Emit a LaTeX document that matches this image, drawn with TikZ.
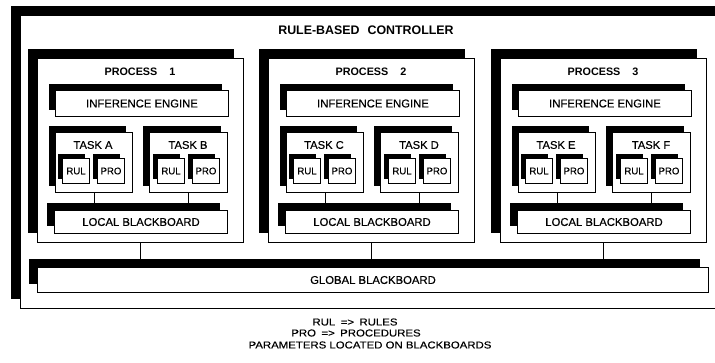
\documentclass[tikz,border=0pt]{standalone}
\usepackage{fontspec}
\setmainfont{Liberation Sans}
\newfontfamily\printfont{Liberation Sans}[FakeBold=0.35]
\usetikzlibrary{shadows}
\tikzset{
  x=1pt, y=-1pt,
  box/.style={draw=black, line width=1pt, fill=white, rectangle, inner sep=0pt,
    anchor=north west, font=\printfont\fontsize{11.3}{12}\selectfont},
  blockshadow/.style={drop shadow={shadow xshift=-#1, shadow yshift=#1,
    fill=black, opacity=1}},
  label/.style={inner sep=0pt, font=\printfont\fontsize{11.2}{12}\selectfont},
  heading/.style={inner sep=0pt, font=\bfseries\fontsize{10.8}{12}\selectfont},
  legend/.style={inner sep=0pt, font=\printfont\fontsize{10}{12}\selectfont},
  conn/.style={draw=black, line width=0.9pt},
  smallbox/.style={box, blockshadow=4.5pt, minimum width=27pt, minimum height=25pt,
    font=\printfont\fontsize{9.6}{10}\selectfont},
}
\newcommand{\stretched}[1]{\scalebox{1.14}[1]{#1}}
\begin{document}
\begin{tikzpicture}
\useasboundingbox (0,0) rectangle (715,362);

% controller frame (runs past the right edge)
\node[box, blockshadow=9.5pt, minimum width=712pt, minimum height=293pt] (ctrl) at (20,15) {};
\node[heading, font=\bfseries\fontsize{12.4}{13}\selectfont] (title) at (366,30)
  {RULE-BASED\hspace{8pt}CONTROLLER};

% global blackboard
\node[box, blockshadow=9pt, minimum width=671pt, minimum height=25pt] (gbb) at (37,267)
  {GLOBAL BLACKBOARD};

% the three processes
\foreach \i/\px/\ta/\tb in {1/37/A/B, 2/268/C/D, 3/500/E/F}{
  \node[box, blockshadow=9.5pt, minimum width=206pt, minimum height=184pt] (p\i) at (\px,58) {};
  \node[heading] (pt\i) at (\px+103,72) {PROCESS\hspace{12pt}\i};
  \node[box, blockshadow=7pt, minimum width=173pt, minimum height=26pt] (ie\i) at (\px+18,90)
    {INFERENCE ENGINE};
  % tasks with their rule and procedure sets
  \node[box, blockshadow=7pt, minimum width=77pt, minimum height=60pt] (ta\i) at (\px+18,132) {};
  \node[box, blockshadow=7pt, minimum width=78pt, minimum height=60pt] (tb\i) at (\px+112,132) {};
  \node[label] (tat\i) at (\px+56,145) {TASK \ta};
  \node[label] (tbt\i) at (\px+151,145) {TASK \tb};
  \node[smallbox] (ra\i) at (\px+25,158) {RUL};
  \node[smallbox] (pa\i) at (\px+60,158) {PRO};
  \node[smallbox] (rb\i) at (\px+120,158) {RUL};
  \node[smallbox] (pb\i) at (\px+155,158) {PRO};
  % local blackboard
  \node[box, blockshadow=7.5pt, minimum width=173pt, minimum height=23pt] (lb\i) at (\px+17,210)
    {LOCAL BLACKBOARD};
  % links
  \draw[conn] (ta\i.south) -- (ta\i.south |- lb\i.north);
  \draw[conn] (tb\i.south) -- (tb\i.south |- lb\i.north);
  \draw[conn] (p\i.south) -- (p\i.south |- gbb.north);
}

% legend
\node[legend] (lg1) at (355,322) {\stretched{RUL \hspace{2pt}=> \hspace{2pt}RULES}};
\node[legend] (lg2) at (356,333) {\stretched{PRO \hspace{2pt}=> \hspace{2pt}PROCEDURES}};
\node[legend] (lg3) at (370,345) {\stretched{PARAMETERS LOCATED ON BLACKBOARDS}};
\end{tikzpicture}
\end{document}
